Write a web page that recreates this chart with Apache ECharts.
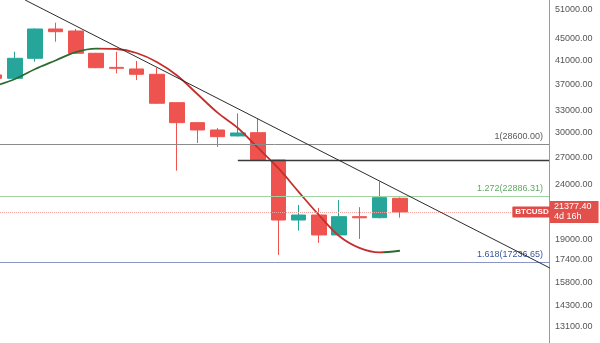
<!DOCTYPE html>
<html>
<head>
<meta charset="utf-8">
<script src="https://cdn.jsdelivr.net/npm/echarts@6/dist/echarts.min.js"></script>
<style>
  html, body { margin: 0; padding: 0; background: #ffffff; }
  #chart { width: 600px; height: 343px; }
</style>
</head>
<body>
<div id="chart"></div>
<script>
// Weekly BTCUSD candles (index = bar number, left to right)
const candleOpen  = [38480, 37930, 41330, 46870, 46470, 42230, 39750, 39480, 38590, 34170, 31360, 30390, 29620, 30040, 26720, 20650, 21100, 19370, 20950, 20860, 22670];
const candleClose = [37930, 41330, 46870, 46330, 42230, 39700, 39600, 38590, 34080, 31360, 30390, 29530, 30000, 26720, 20650, 21100, 19370, 20950, 20850, 22730, 21377.40];
const candleLow   = [37800, 37800, 40740, 44380, 42100, 39600, 38750, 37660, 34000, 25520, 28740, 28250, 29550, 26700, 17780, 19730, 18720, 19300, 19040, 20800, 20860];
const candleHigh  = [38600, 42520, 47000, 48150, 46870, 42300, 42520, 40860, 39650, 34200, 31400, 30650, 32640, 31950, 26750, 22030, 21750, 22500, 21820, 24350, 22750];

// Moving average
const maValues = [36700, 37820, 39480, 40940, 42460, 43100, 43010, 42280, 40680, 38390, 35460, 32730, 30650, 28130, 25790, 23310, 21100, 19280, 18320, 17970, 18100];

// Price scale tick labels
const priceTicks = [51000, 45000, 41000, 37000, 33000, 30000, 27000, 24000, 19000, 17400, 15800, 14300, 13100];

// Fibonacci extension levels
const fibRatios = ['1', '1.272', '1.618'];
const fibPrices = [28600.00, 22886.31, 17236.65];
const fibColors = ['#8a8a8a', '#9fd3a2', '#8a97c6'];
const fibTextColors = ['#5a5a5a', '#5fa863', '#3a56a0'];

// Descending trendline anchors [bar, price] and the support shelf
const trendPoints = [[1.5, 53077], [27.4, 16810]];
const shelfPrice = 26700;
const shelfStartBar = 12;

const symbolName = 'BTCUSD';
const lastPrice = candleClose[candleClose.length - 1];
const timeLeft = '4d 16h';

// Visible bar range and price range
const xMin = 0.26, xMax = 27.36;
const yMin = 12184, yMax = 53077;

const candleData = candleOpen.map((o, i) => [i, o, candleClose[i], candleLow[i], candleHigh[i]]);
const maData = maValues.map((v, i) => [i, v]);

const RED = '#ef5350';
const GREEN = '#26a69a';
const LABEL_FONT = 'Liberation Sans Narrow, Arial, sans-serif';

const fibLines = fibPrices.map((p, k) => ({
  yAxis: p,
  lineStyle: { color: fibColors[k], width: 1, type: 'solid' },
  label: {
    show: true,
    position: 'insideEndTop',
    distance: [6, 3],
    color: fibTextColors[k],
    fontSize: 9,
    fontFamily: LABEL_FONT,
    formatter: fibRatios[k] + '(' + p.toFixed(2) + ')'
  }
}));

const chart = echarts.init(document.getElementById('chart'), null, { renderer: 'canvas' });

chart.setOption({
  animation: false,
  backgroundColor: '#ffffff',
  grid: { left: 0, right: 51, top: 0, bottom: 0, containLabel: false },
  xAxis: {
    type: 'value', min: xMin, max: xMax,
    show: false, splitLine: { show: false }
  },
  yAxis: {
    type: 'log', logBase: 10, min: yMin, max: yMax,
    position: 'right',
    axisLine: { show: true, lineStyle: { color: '#9a9a9a', width: 1 } },
    axisTick: { show: false },
    splitLine: { show: false },
    axisLabel: {
      customValues: priceTicks,
      formatter: v => Number(v).toFixed(2),
      color: '#555555',
      fontSize: 9,
      fontFamily: LABEL_FONT,
      margin: 6
    }
  },
  visualMap: {
    show: false,
    seriesIndex: 1,
    dimension: 0,
    pieces: [
      { lte: 5.2, color: '#2b6a30' },
      { gt: 5.2, lte: 19.2, color: '#c3302c' },
      { gt: 19.2, color: '#2b6a30' }
    ]
  },
  series: [
    {
      type: 'candlestick',
      data: candleData,
      encode: { x: 0, y: [1, 2, 3, 4] },
      barWidth: 15,
      clip: true,
      itemStyle: {
        color: GREEN, color0: RED,
        borderColor: GREEN, borderColor0: RED,
        borderWidth: 1
      },
      z: 3
    },
    {
      type: 'line',
      data: maData,
      smooth: 0.35,
      showSymbol: false,
      clip: true,
      lineStyle: { width: 1.8 },
      z: 4
    },
    {
      // trendline + horizontal levels
      type: 'line',
      data: trendPoints,
      showSymbol: false,
      clip: true,
      lineStyle: { color: '#2b2b2b', width: 1 },
      z: 5,
      silent: true,
      markLine: {
        silent: true,
        symbol: ['none', 'none'],
        animation: false,
        data: [
          ...fibLines,
          [
            { coord: [shelfStartBar, shelfPrice], lineStyle: { color: '#3a3a3a', width: 1.3, type: 'solid' }, label: { show: false } },
            { coord: [xMax, shelfPrice] }
          ],
          [
            {
              coord: [xMin, lastPrice],
              lineStyle: { color: '#f2a3a0', width: 1, type: 'dotted' },
              label: {
                show: true, position: 'end', distance: 0,
                formatter: symbolName,
                color: '#ffffff', fontSize: 8, fontWeight: 'bold',
                fontFamily: LABEL_FONT,
                backgroundColor: '#e24a47', padding: [2, 3, 1, 3], borderRadius: 1
              }
            },
            { coord: [25.55, lastPrice] }
          ],
          [
            {
              coord: [xMax - 0.05, lastPrice],
              lineStyle: { color: 'rgba(255,255,255,0)', width: 0 },
              label: {
                show: true, position: 'end', distance: 1,
                formatter: lastPrice.toFixed(2) + '\n' + timeLeft,
                color: '#ffffff', fontSize: 9, lineHeight: 10,
                fontFamily: LABEL_FONT,
                backgroundColor: '#e2504c', padding: [1, 7, 1, 4]
              }
            },
            { coord: [xMax, lastPrice] }
          ]
        ]
      }
    }
  ]
});
</script>
</body>
</html>
